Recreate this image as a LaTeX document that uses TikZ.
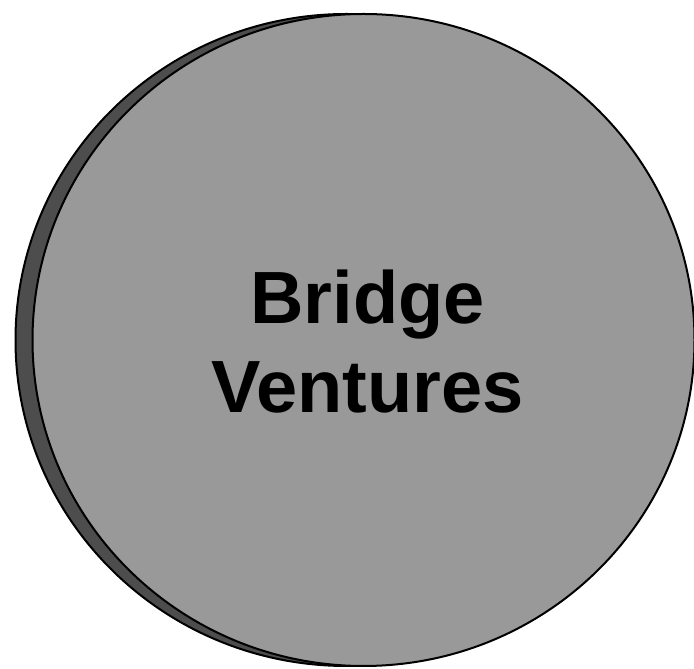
\documentclass[tikz,border=0pt]{standalone}
\usepackage{fontspec}
\setmainfont{Liberation Sans}
\usetikzlibrary{shapes.geometric}
\definecolor{discgrey}{HTML}{999999}
\definecolor{shadowgrey}{HTML}{4D4D4D}

\begin{document}
\begin{tikzpicture}[
		x=1pt, y=1pt,
		disc/.style={draw, ellipse, line width=2pt, inner sep=0pt, minimum width=662pt, minimum height=652pt},
		label/.style={align=center, font=\fontsize{74}{89}\selectfont\bfseries}
		]
		\useasboundingbox (0,0) rectangle (694,669);
		% shadow behind the disc
		\node[disc, fill=shadowgrey] (shadow) at (346.5,329) {};
		\node[disc, fill=discgrey] (bridge) at (363.5,329) {};
		\node[label] (name) at ([yshift=-2pt, xshift=4pt]bridge.center) {Bridge\\Ventures};
	\end{tikzpicture}
\end{document}
